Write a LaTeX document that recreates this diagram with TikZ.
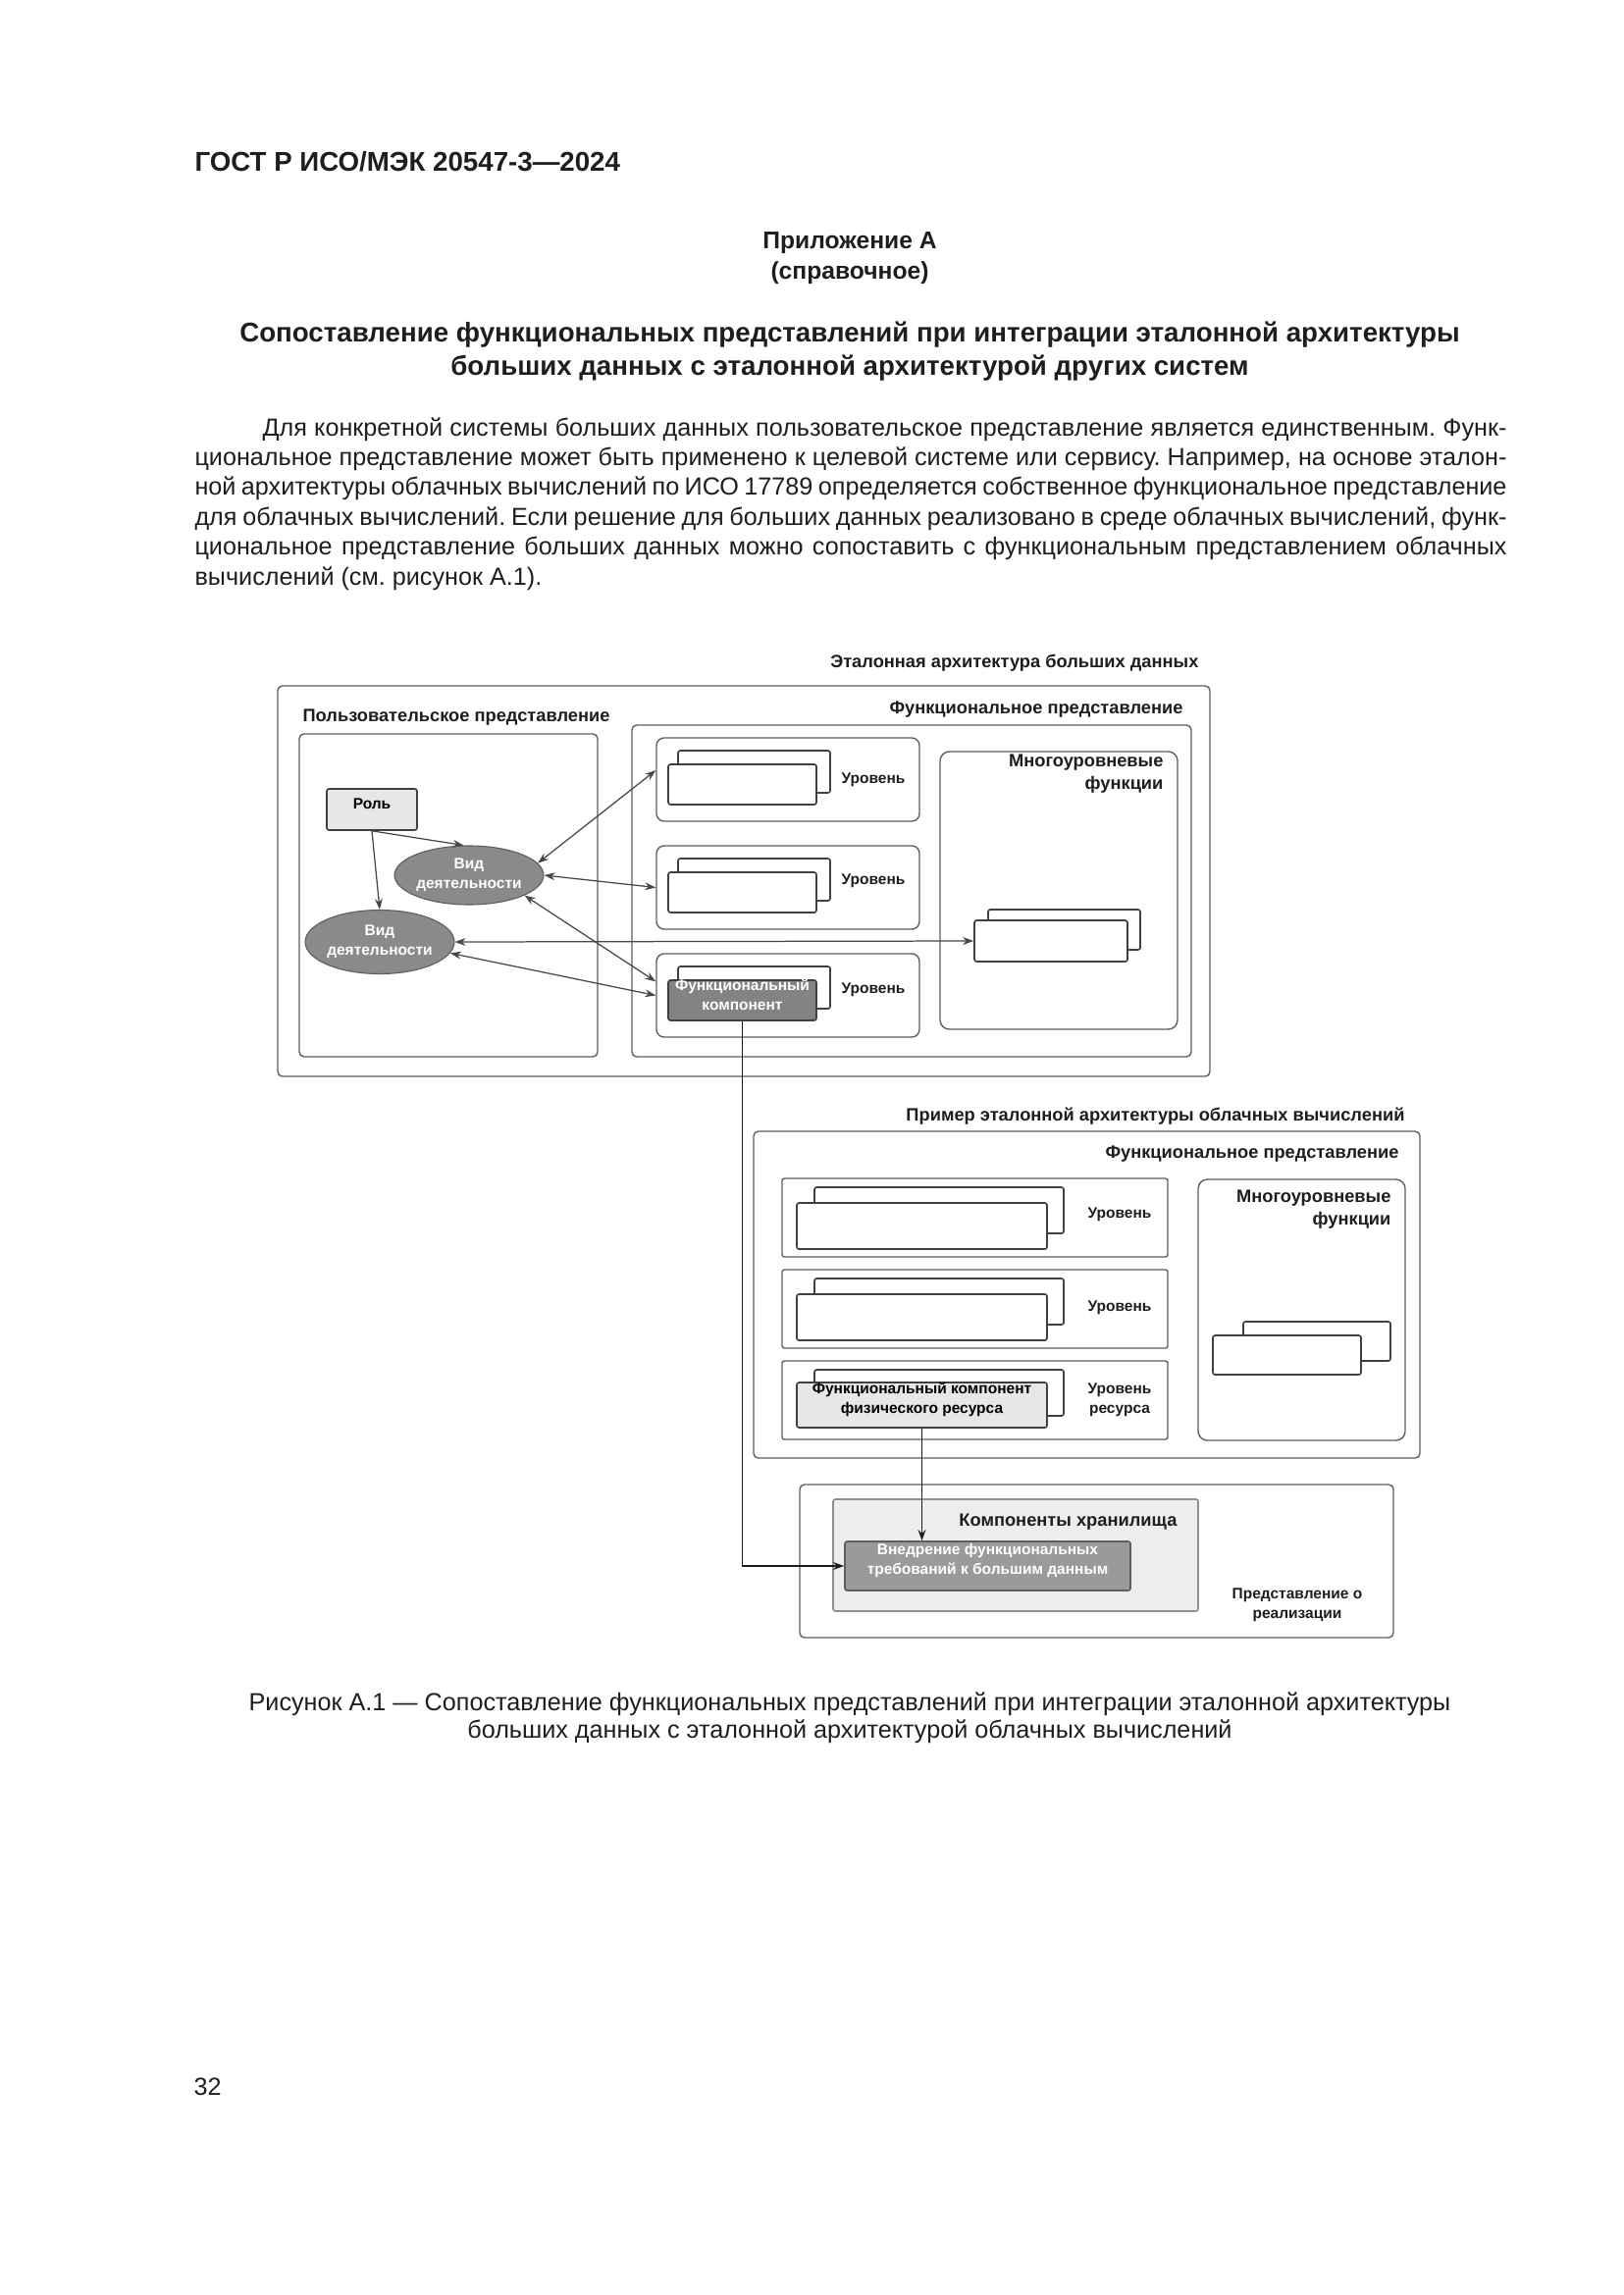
\documentclass[tikz,border=0pt]{standalone}
\usepackage{fontspec}
\setmainfont{Liberation Sans}
\usepackage{tikz}
\usetikzlibrary{arrows.meta,calc,positioning,shapes.geometric,fit}
\definecolor{ga-ink}{HTML}{1E1E1E}
\definecolor{ga-line}{HTML}{5E5E5E}
\definecolor{ga-arrow}{HTML}{474747}
\definecolor{ga-oval}{HTML}{8A8A8A}
\definecolor{ga-comp}{HTML}{838383}
\definecolor{ga-light}{HTML}{E7E7E7}
\definecolor{ga-store}{HTML}{EDEDED}
\definecolor{ga-impl}{HTML}{9A9A9A}
\newlength{\pxunit}
\setlength{\pxunit}{0.12697mm}
\newcommand{\headfont}{\bfseries\fontsize{6.6}{8.6}\selectfont}
\newcommand{\lblfont}{\bfseries\fontsize{5.6}{7.2}\selectfont}
\frenchspacing

\begin{document}
\begin{tikzpicture}[x=\pxunit,y=-\pxunit,>={Stealth[length=1.4mm,width=1mm]},
  bodytext/.style={font=\fontsize{9.1}{11}\selectfont,text=ga-ink,inner sep=0pt},
  boldtext/.style={font=\bfseries\fontsize{10}{12}\selectfont,text=ga-ink,inner sep=0pt},
  annextext/.style={font=\bfseries\fontsize{8.9}{11}\selectfont,text=ga-ink,inner sep=0pt},
  hdtext/.style={font=\headfont,text=ga-ink,inner sep=0pt},
  lbltext/.style={font=\lblfont,text=ga-ink,inner sep=0pt,align=center},
  framebox/.style={draw=ga-line,line width=0.5pt,rounded corners=0.6mm,inner sep=0pt},
  lvl/.style={draw=ga-line,line width=0.5pt,rounded corners=1mm,inner sep=0pt},
  clvl/.style={draw=ga-line,line width=0.5pt,rounded corners=0.3mm,inner sep=0pt},
  multibox/.style={draw=ga-line,line width=0.5pt,rounded corners=1.2mm,inner sep=0pt},
  card/.style={draw=ga-ink!85,fill=white,line width=0.6pt,rounded corners=0.3mm,inner sep=0pt},
  oval/.style={ellipse,draw=ga-line,fill=ga-oval,text=white,font=\lblfont,align=center,
    inner sep=0pt,minimum width=149\pxunit,minimum height=60\pxunit},
  link/.style={draw=ga-arrow,line width=0.45pt},
  riser/.style={draw=ga-ink,line width=0.7pt}]
  \path[fill=white,use as bounding box] (0,0) rectangle (1654,2339);

  % Шапка страницы
  \node[boldtext,anchor=mid west] (gost) at (198,167) {ГОСТ Р ИСО/МЭК 20547-3—2024};
  \node[annextext,anchor=mid] (annex) at (866,246) {Приложение А};
  \node[annextext,anchor=mid] (annexType) at (866,277) {(справочное)};
  \node[boldtext,anchor=mid] (head1) at (866,341) {Сопоставление функциональных представлений при интеграции эталонной архитектуры};
  \node[boldtext,anchor=mid] (head2) at (866,375) {больших данных с эталонной архитектурой других систем};

  % Текст
  \node[bodytext,anchor=mid west] (par1) at (267,437) {\makebox[1268\pxunit][s]{Для конкретной системы больших данных пользовательское представление является единственным. Функ-}};
  \node[bodytext,anchor=mid west] (par2) at (198,467) {\makebox[1337\pxunit][s]{циональное представление может быть применено к целевой системе или сервису. Например, на основе эталон-}};
  \node[bodytext,anchor=mid west] (par3) at (198,497) {\makebox[1337\pxunit][s]{ной архитектуры облачных вычислений по ИСО 17789 определяется собственное функциональное представление}};
  \node[bodytext,anchor=mid west] (par4) at (198,528) {\makebox[1337\pxunit][s]{для облачных вычислений. Если решение для больших данных реализовано в среде облачных вычислений, функ-}};
  \node[bodytext,anchor=mid west] (par5) at (198,558) {\makebox[1337\pxunit][s]{циональное представление больших данных можно сопоставить с функциональным представлением облачных}};
  \node[bodytext,anchor=mid west] (par6) at (198,589) {вычислений (см. рисунок А.1).};

  % Эталонная архитектура больших данных
  \node[hdtext,anchor=mid east] (bdTitle) at (1222,673) {Эталонная архитектура больших данных};
  \node[framebox,fit={(283,699) (1233,1097)}] (bdOuter) {};
  \node[hdtext,anchor=mid west] (userTitle) at (308,728) {Пользовательское представление};
  \node[hdtext,anchor=mid east] (funcTitle) at (1206,720) {Функциональное представление};
  \node[framebox,fit={(305,748) (609,1077)}] (userBox) {};
  \node[framebox,fit={(644,739) (1214,1077)}] (funcBox) {};

  % Уровни
  \foreach \i/\y/\t in {1/752/795,2/862/898,3/972/1009} {
    \node[lvl,fit={(669,\y) (937,\y+85)}] (lvl\i) {};
    \node[card,fit={(691,\y+13) (846,\y+56)}] (lvlBack\i) {};
    \node[lbltext] (lvlText\i) at (890,\t) {Уровень};
  }
  \foreach \i/\y in {1/752,2/862}
    \node[card,fit={(681,\y+27) (832,\y+68)}] (lvlFront\i) {};
  \node[card,fill=ga-comp,text=white,font=\lblfont,align=center,
    fit={(681,999) (832,1040)}] (fcomp) {Функциональный\\компонент};

  % Многоуровневые функции
  \node[multibox,fit={(958,766) (1200,1049)}] (multiBox) {};
  \node[hdtext,anchor=north east,align=right] (multiText) at (1186,768) {Многоуровневые\\функции};
  \node[card,fit={(1007,927) (1162,968)}] (multiBack) {};
  \node[card,fit={(993,938) (1149,980)}] (multiFront) {};

  % Роль и виды деятельности
  \node[card,fill=ga-light,font=\lblfont,fit={(333,804) (425,846)}] (role) {Роль};
  \node[oval] (act1) at (478,892) {Вид\\деятельности};
  \node[oval,minimum height=65\pxunit] (act2) at (387,960) {Вид\\деятельности};

  \draw[link,->] (role.south) -- (act1.100);
  \draw[link,->] (role.south) -- (act2.north);
  \draw[link,<->] (act1.10) -- (lvl1.176);
  \draw[link,<->] (act1.east) -- (lvl2.west);
  \draw[link,<->] (act1.-20) -- (lvl3.174);
  \draw[link,<->] (act2.east) -- (multiFront.west);
  \draw[link,<->] (act2.-9) -- (lvl3.west);

  % Облачные вычисления
  \node[hdtext,anchor=mid east] (cloudTitle) at (1432,1135) {Пример эталонной архитектуры облачных вычислений};
  \node[framebox,fit={(768,1153) (1447,1486)}] (cloudOuter) {};
  \node[hdtext,anchor=mid east] (cloudFunc) at (1426,1173) {Функциональное представление};
  \foreach \i/\y in {1/1201,2/1294,3/1387} {
    \node[clvl,fit={(797,\y) (1190,\y+80)}] (clvl\i) {};
    \node[card,fit={(830,\y+9) (1084,\y+56)}] (clvlBack\i) {};
  }
  \foreach \i/\y in {1/1201,2/1294}
    \node[card,fit={(812,\y+25) (1067,\y+72)}] (clvlFront\i) {};
  \node[card,fill=ga-light,font=\lblfont,align=center,
    fit={(812,1409) (1067,1455)}] (cfcomp) {Функциональный компонент\\физического ресурса};
  \node[lbltext] (clvlText1) at (1141,1238) {Уровень};
  \node[lbltext] (clvlText2) at (1141,1333) {Уровень};
  \node[lbltext] (clvlText3) at (1141,1427) {Уровень\\ресурса};

  \node[multibox,fit={(1221,1202) (1432,1468)}] (cmultiBox) {};
  \node[hdtext,anchor=north east,align=right] (cmultiText) at (1418,1212) {Многоуровневые\\функции};
  \node[card,fit={(1267,1347) (1417,1387)}] (cmultiBack) {};
  \node[card,fit={(1236,1361) (1387,1401)}] (cmultiFront) {};

  % Представление о реализации
  \node[framebox,fit={(815,1513) (1420,1669)}] (implOuter) {};
  \node[card,fill=ga-store,draw=ga-line!70,fit={(849,1528) (1221,1642)}] (storeBox) {};
  \node[hdtext,anchor=mid east] (storeTitle) at (1200,1548) {Компоненты хранилища};
  \node[card,fill=ga-impl,draw=ga-line,text=white,font=\lblfont,align=center,
    fit={(861,1571) (1152,1621)}] (implBox) {Внедрение функциональных\\требований к большим данным};
  \node[lbltext] (implText) at (1322,1636) {Представление о\\реализации};

  \draw[riser,->] (fcomp.south) |- (implBox.west);
  \draw[riser,->] (cfcomp.south) -- (cfcomp.south |- implBox.north);

  % Подпись
  \node[bodytext,anchor=mid] (cap1) at (866,1736) {Рисунок А.1 — Сопоставление функциональных представлений при интеграции эталонной архитектуры};
  \node[bodytext,anchor=mid] (cap2) at (866,1764) {больших данных с эталонной архитектурой облачных вычислений};
  \node[bodytext,anchor=mid west] (pageNo) at (197,2128) {32};
\end{tikzpicture}
\end{document}
